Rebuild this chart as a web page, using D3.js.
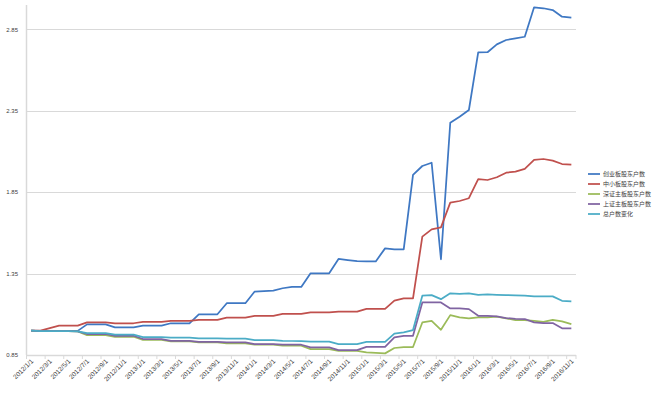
<!DOCTYPE html>
<html>
<head>
<meta charset="utf-8">
<script src="https://cdn.jsdelivr.net/npm/d3@7/dist/d3.min.js"></script>
<style>
body { margin: 0; background: #fff; }
svg text { font-family: "Liberation Sans", Arial, "Noto Sans CJK SC", sans-serif; fill: #404040; }
</style>
</head>
<body>
<svg id="chart" width="660" height="393"></svg>
<script>
// monthly points, 2012/1 .. 2016/11
var months = d3.timeMonth.range(new Date(2012, 0, 1), new Date(2016, 11, 1));
var seriesNames = ["创业板股东户数", "中小板股东户数", "深证主板股东户数", "上证主板股东户数", "总户数变化"];
var seriesColors = ["#3f78c3", "#c0504d", "#9bbb59", "#8064a2", "#4bacc6"];
var yTicks = [0.85, 1.35, 1.85, 2.35, 2.85];

var chuangye = [1.0, 0.998, 0.998, 0.998, 0.998, 0.998, 1.038, 1.038, 1.038, 1.02,
    1.02, 1.02, 1.03, 1.03, 1.03, 1.045, 1.045, 1.045, 1.1, 1.1,
    1.1, 1.168, 1.168, 1.168, 1.24, 1.242, 1.245, 1.26, 1.268, 1.268,
    1.352, 1.352, 1.352, 1.44, 1.433, 1.427, 1.425, 1.425, 1.505, 1.499,
    1.499, 1.956, 2.011, 2.031, 1.438, 2.277, 2.314, 2.355, 2.709, 2.71,
    2.758, 2.785, 2.795, 2.805, 2.986, 2.98, 2.969, 2.928, 2.922];
var zhongxiao = [1.0, 1.0, 1.015, 1.03, 1.03, 1.03, 1.05, 1.05, 1.05, 1.045,
    1.045, 1.045, 1.054, 1.054, 1.054, 1.06, 1.06, 1.06, 1.066, 1.066,
    1.066, 1.08, 1.08, 1.08, 1.09, 1.09, 1.09, 1.102, 1.102, 1.102,
    1.112, 1.112, 1.112, 1.116, 1.116, 1.116, 1.133, 1.133, 1.133, 1.184,
    1.198, 1.198, 1.577, 1.622, 1.634, 1.786, 1.796, 1.813, 1.931, 1.925,
    1.942, 1.97, 1.976, 1.993, 2.048, 2.054, 2.044, 2.023, 2.019];
var shenzhu = [1.0, 0.997, 0.996, 0.996, 0.996, 0.995, 0.972, 0.972, 0.972, 0.962,
    0.962, 0.962, 0.943, 0.943, 0.943, 0.934, 0.934, 0.934, 0.928, 0.928,
    0.928, 0.921, 0.921, 0.921, 0.913, 0.913, 0.913, 0.907, 0.907, 0.907,
    0.886, 0.886, 0.886, 0.876, 0.876, 0.876, 0.866, 0.863, 0.86, 0.893,
    0.899, 0.899, 1.05, 1.06, 1.005, 1.095, 1.081, 1.075, 1.081, 1.081,
    1.085, 1.075, 1.064, 1.064, 1.06, 1.054, 1.066, 1.057, 1.04];
var shangzhu = [1.0, 0.997, 0.996, 0.996, 0.996, 0.995, 0.979, 0.979, 0.979, 0.968,
    0.968, 0.968, 0.948, 0.948, 0.948, 0.937, 0.937, 0.937, 0.931, 0.931,
    0.931, 0.927, 0.927, 0.927, 0.917, 0.917, 0.917, 0.913, 0.913, 0.913,
    0.897, 0.897, 0.897, 0.88, 0.88, 0.88, 0.9, 0.9, 0.9, 0.958,
    0.968, 0.968, 1.173, 1.173, 1.173, 1.136, 1.136, 1.132, 1.091, 1.091,
    1.087, 1.077, 1.072, 1.071, 1.05, 1.046, 1.046, 1.014, 1.014];
var zonghu = [1.0, 0.997, 0.996, 0.996, 0.996, 0.995, 0.985, 0.985, 0.985, 0.975,
    0.975, 0.975, 0.96, 0.96, 0.96, 0.956, 0.956, 0.956, 0.952, 0.952,
    0.952, 0.95, 0.95, 0.95, 0.942, 0.942, 0.942, 0.937, 0.936, 0.935,
    0.932, 0.932, 0.932, 0.917, 0.917, 0.917, 0.93, 0.93, 0.931, 0.981,
    0.989, 1.003, 1.214, 1.218, 1.193, 1.229, 1.226, 1.229, 1.22, 1.222,
    1.22, 1.218, 1.216, 1.214, 1.21, 1.21, 1.21, 1.183, 1.179];
var seriesValues = [chuangye, zhongxiao, shenzhu, shangzhu, zonghu];

var svg = d3.select("#chart");
var fmt = d3.timeFormat("%Y/%-m/%-d");

var x = d3.scaleBand().domain(d3.range(months.length)).range([26.5, 576]);
var half = x.bandwidth() / 2;
var y = d3.scaleLinear().domain([0.85, 3.0]).range([355, 5]);

// gridlines
svg.append("g").selectAll("line")
    .data(yTicks.slice(1))
    .enter().append("line")
    .attr("x1", 26.5).attr("x2", 576)
    .attr("y1", function (d) { return Math.round(y(d)) + 0.5; })
    .attr("y2", function (d) { return Math.round(y(d)) + 0.5; })
    .attr("stroke", "#d9d9d9").attr("stroke-width", 1);

// axes lines
svg.append("line").attr("x1", 26.5).attr("x2", 26.5).attr("y1", y(3.0)).attr("y2", y(0.85))
    .attr("stroke", "#d9d9d9").attr("stroke-width", 1.5);
svg.append("line").attr("x1", 26).attr("x2", 576).attr("y1", 355.5).attr("y2", 355.5)
    .attr("stroke", "#d9d9d9").attr("stroke-width", 1.5);

// y labels
svg.append("g").selectAll("text")
    .data(yTicks)
    .enter().append("text")
    .attr("x", 18).attr("y", function (d) { return y(d); })
    .attr("dy", "0.35em")
    .attr("text-anchor", "end")
    .attr("font-size", "6px")
    .text(function (d) { return d3.format(".2f")(d); });

// x ticks + labels every 2 months
var labelIdx = d3.range(0, months.length, 2);
var ticks = labelIdx.map(function (i) { return x(i); }).concat([x.range()[1]]);
svg.append("g").selectAll("line")
    .data(ticks)
    .enter().append("line")
    .attr("x1", function (d) { return d; }).attr("x2", function (d) { return d; })
    .attr("y1", 355).attr("y2", 359)
    .attr("stroke", "#d9d9d9");
svg.append("g").selectAll("text")
    .data(labelIdx)
    .enter().append("text")
    .attr("transform", function (i) { return "translate(" + (x(i) + half + 1) + ",360) rotate(-45)"; })
    .attr("text-anchor", "end")
    .attr("dy", "0.35em")
    .attr("font-size", "6.5px")
    .text(function (i) { return fmt(months[i]); });

// lines
var line = d3.line()
    .x(function (d, i) { return x(i) + half; })
    .y(function (d) { return y(d); });
svg.append("g").selectAll("path")
    .data(seriesValues)
    .enter().append("path")
    .attr("d", line)
    .attr("fill", "none")
    .attr("stroke", function (d, i) { return seriesColors[i]; })
    .attr("stroke-width", 1.75)
    .attr("stroke-linejoin", "round");

// legend
var leg = svg.append("g").selectAll("g")
    .data(seriesNames)
    .enter().append("g")
    .attr("transform", function (d, i) { return "translate(588," + (174 + i * 10) + ")"; });
leg.append("line").attr("x1", 0).attr("x2", 12).attr("y1", 0).attr("y2", 0)
    .attr("stroke", function (d, i) { return seriesColors[i]; })
    .attr("stroke-width", 1.75);
leg.append("text").attr("x", 15).attr("dy", "0.35em")
    .attr("font-size", "6px")
    .attr("font-family", "'Noto Sans CJK SC', sans-serif")
    .text(function (d) { return d; });
</script>
</body>
</html>
